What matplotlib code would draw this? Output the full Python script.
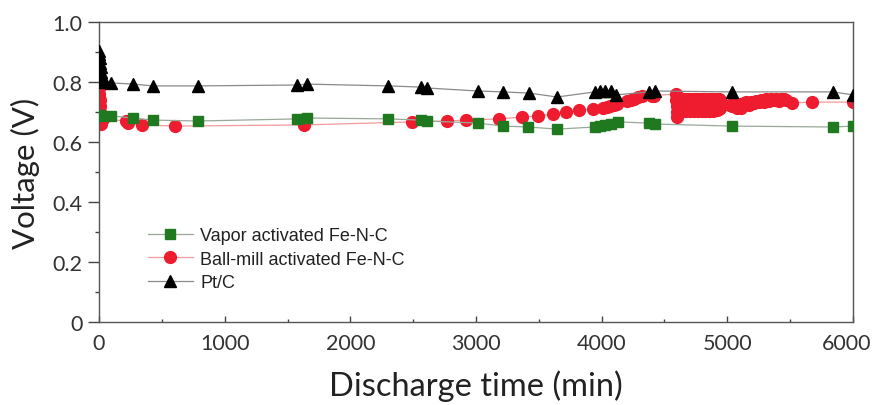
import matplotlib
matplotlib.use("Agg")
import matplotlib.pyplot as plt
from matplotlib.ticker import MultipleLocator
from matplotlib.transforms import ScaledTranslation

# ---- data ----
pt_time = [0, 3, 6, 9, 12, 15, 20, 25, 35, 95, 270, 430, 788, 1576, 1655, 2300, 2562, 2610,
           3016, 3215, 3422, 3645, 3947, 3987, 4026, 4074, 4114, 4377, 4424, 5037, 5841, 6000]
pt_volt = [0.905, 0.895, 0.88, 0.865, 0.85, 0.835, 0.82, 0.81, 0.80, 0.797, 0.793, 0.787, 0.787,
           0.79, 0.793, 0.787, 0.783, 0.78, 0.77, 0.767, 0.763, 0.75, 0.767, 0.77, 0.77, 0.77,
           0.757, 0.767, 0.77, 0.767, 0.767, 0.757]

vap_time = [0, 5, 10, 95, 270, 430, 788, 1576, 1655, 2300, 2562, 2610, 3016, 3215, 3414, 3645,
            3947, 3987, 4026, 4074, 4130, 4377, 4424, 5037, 5841, 6000]
vap_volt = [0.69, 0.69, 0.688, 0.687, 0.68, 0.673, 0.67, 0.677, 0.68, 0.677, 0.673, 0.67, 0.663,
            0.653, 0.65, 0.643, 0.65, 0.653, 0.657, 0.66, 0.667, 0.663, 0.66, 0.653, 0.65, 0.653]

bm_time = [0, 2, 4, 6, 8, 10, 12, 15, 30, 215, 230, 342, 605, 1631, 2490, 2770, 2920, 3183,
           3366, 3493, 3613, 3717, 3820, 3931, 4010, 4040, 4070, 4100, 4120, 4200, 4230, 4260,
           4290, 4321, 4400, 4420,
           4592, 4595, 4598, 4600, 4602, 4605,
           4615, 4615, 4615, 4630, 4630, 4630, 4645, 4645, 4645, 4660, 4660, 4660,
           4675, 4675, 4675, 4690, 4690, 4690, 4705, 4705, 4705, 4720, 4720, 4720,
           4735, 4735, 4735, 4750, 4750, 4750, 4765, 4765, 4765, 4780, 4780, 4780,
           4795, 4795, 4795, 4810, 4810, 4810, 4825, 4825, 4825, 4840, 4840, 4840,
           4855, 4855, 4855, 4870, 4870, 4870, 4885, 4885, 4885, 4900, 4900, 4900,
           4915, 4915, 4915, 4930, 4930, 4930, 4945, 4945, 4945,
           5020, 5040, 5060, 5080, 5100, 5110, 5130, 5150, 5170, 5190, 5210, 5230, 5250,
           5270, 5290, 5310, 5330, 5350, 5370, 5390, 5410, 5430, 5450, 5470,
           5513, 5674, 6000]
bm_volt = [0.78, 0.76, 0.74, 0.72, 0.70, 0.685, 0.67, 0.66, 0.677, 0.67, 0.663, 0.657, 0.653,
           0.657, 0.667, 0.67, 0.673, 0.677, 0.683, 0.687, 0.693, 0.70, 0.707, 0.71, 0.713, 0.717,
           0.72, 0.724, 0.727, 0.737, 0.741, 0.745, 0.749, 0.753, 0.752, 0.755,
           0.76, 0.74, 0.72, 0.70, 0.685, 0.75,
           0.745, 0.705, 0.725, 0.74, 0.71, 0.73, 0.745, 0.705, 0.72, 0.74, 0.71, 0.728,
           0.745, 0.703, 0.725, 0.742, 0.708, 0.73, 0.745, 0.705, 0.722, 0.74, 0.71, 0.727,
           0.745, 0.705, 0.725, 0.742, 0.708, 0.73, 0.745, 0.705, 0.722, 0.74, 0.71, 0.727,
           0.745, 0.705, 0.725, 0.742, 0.708, 0.73, 0.745, 0.705, 0.722, 0.74, 0.71, 0.727,
           0.745, 0.705, 0.725, 0.742, 0.708, 0.73, 0.745, 0.705, 0.722, 0.74, 0.71, 0.727,
           0.745, 0.708, 0.725, 0.742, 0.71, 0.73, 0.74, 0.712, 0.727,
           0.725, 0.72, 0.73, 0.715, 0.728, 0.712, 0.73, 0.733, 0.725, 0.735, 0.73, 0.738, 0.732,
           0.74, 0.735, 0.742, 0.738, 0.745, 0.74, 0.745, 0.738, 0.742, 0.745, 0.74,
           0.73, 0.733, 0.733]

x_ticks = [0, 1000, 2000, 3000, 4000, 5000, 6000]
y_ticks = [0, 0.2, 0.4, 0.6, 0.8, 1.0]
y_tick_labels = ["0", "0.2", "0.4", "0.6", "0.8", "1.0"]

labels = ["Vapor activated Fe-N-C", "Ball-mill activated Fe-N-C", "Pt/C"]

# ---- figure ----
fig = plt.figure(figsize=(8.74, 4.06), dpi=100)
ax = fig.add_axes([99 / 874, 1 - 323 / 406, 754 / 874, 300 / 406])

l1, = ax.plot(vap_time, vap_volt, color="#9aa89a", lw=0.9, marker="s", ms=6.5,
              mfc="#1f7a1f", mec="#1f7a1f", zorder=3)
l2, = ax.plot(bm_time, bm_volt, color="#f29a9a", lw=0.9, marker="o", ms=8.5,
              mfc="#ee1c2e", mec="#ee1c2e", zorder=2)
l3, = ax.plot(pt_time, pt_volt, color="#8a8a8a", lw=0.9, marker="^", ms=8,
              mfc="black", mec="black", zorder=4)

ax.set_xlim(0, 6000)
ax.set_ylim(0, 1.0)

tick_font = dict(family=["Lato", "DejaVu Sans"], size=15.5, color="#333333")
ax.set_xticks(x_ticks)
ax.set_xticklabels([str(t) for t in x_ticks], **tick_font)
ax.set_yticks(y_ticks)
ax.set_yticklabels(y_tick_labels, **tick_font)
ax.xaxis.set_minor_locator(MultipleLocator(500))
ax.yaxis.set_minor_locator(MultipleLocator(0.1))

ax.tick_params(axis="x", which="major", direction="in", length=4, width=1, color="#444444", pad=8)
ax.tick_params(axis="x", which="minor", direction="in", length=2.5, width=1, color="#444444")
ax.tick_params(axis="y", which="major", direction="out", length=8, width=1, color="#444444", pad=4)
ax.tick_params(axis="y", which="minor", direction="out", length=3, width=1, color="#444444")

# keep the last x tick label inside the canvas
last = ax.get_xticklabels()[-1]
last.set_transform(last.get_transform() + ScaledTranslation(-6 / 100, 0, fig.dpi_scale_trans))

for s in ax.spines.values():
    s.set_color("#555555")
    s.set_linewidth(1.0)

ax.set_xlabel("Discharge time (min)", family=["Lato", "DejaVu Sans"], fontweight="normal",
              size=23.5, color="#222222", labelpad=12)
ax.set_ylabel("Voltage (V)", family=["Lato", "DejaVu Sans"], fontweight="normal",
              size=22.5, color="#222222", labelpad=9)

leg = ax.legend([l1, l2, l3], labels, loc="upper left", bbox_to_anchor=(0.055, 0.34),
                frameon=False, prop=dict(family=["Liberation Sans", "DejaVu Sans"], size=13),
                handlelength=2.5, handletextpad=0.4, labelspacing=0.35, borderaxespad=0)
for t in leg.get_texts():
    t.set_color("#222222")

fig.savefig("out.png", dpi=100)
